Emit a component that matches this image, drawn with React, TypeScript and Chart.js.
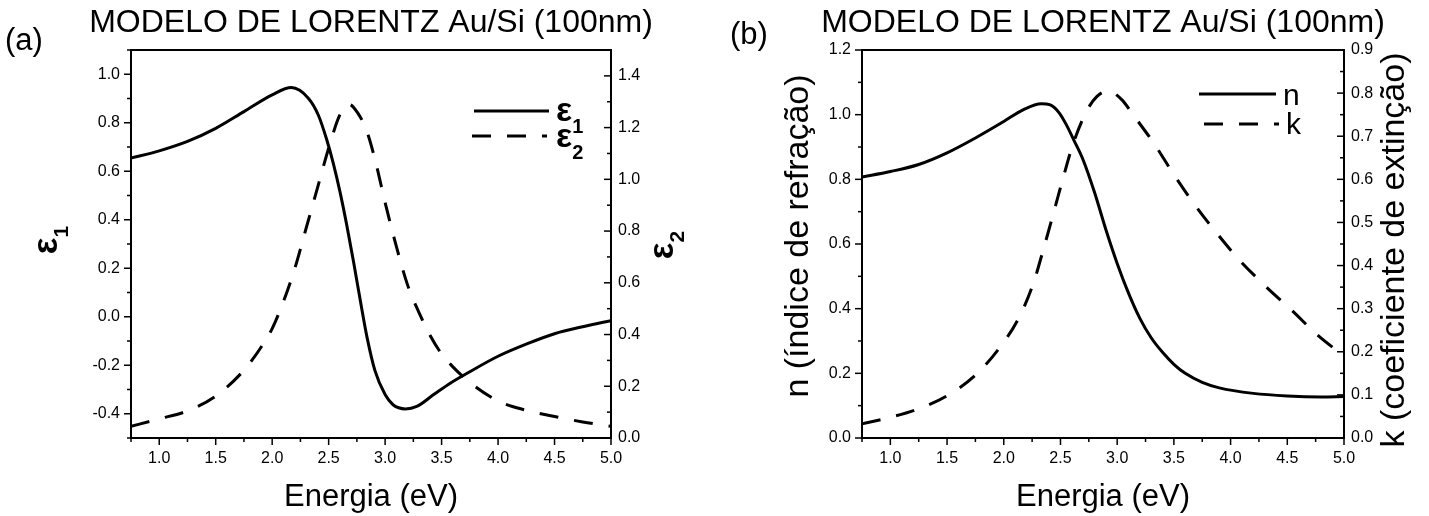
import React, { useEffect, useRef } from 'react';
import { Chart, registerables } from 'chart.js';

Chart.register(...registerables);

// ---------- Panel (a): Lorentz model, dielectric function ----------
const energyEps1 = [0.75, 1.0, 1.25, 1.5, 1.75, 2.0, 2.17, 2.32, 2.41, 2.48, 2.54, 2.6, 2.66, 2.72, 2.78, 2.84, 2.91, 3.0, 3.07, 3.18, 3.28, 3.43, 3.58, 3.73, 4.0, 4.26, 4.5, 4.76, 5.0];
const eps1 = [0.654, 0.684, 0.723, 0.777, 0.846, 0.915, 0.945, 0.901, 0.83, 0.735, 0.635, 0.516, 0.379, 0.228, 0.068, -0.085, -0.222, -0.321, -0.363, -0.38, -0.37, -0.321, -0.273, -0.232, -0.163, -0.111, -0.07, -0.04, -0.016];

const energyEps2 = [0.75, 1.0, 1.25, 1.5, 1.75, 1.9, 2.0, 2.1, 2.2, 2.3, 2.4, 2.5, 2.6, 2.68, 2.76, 2.84, 2.92, 3.0, 3.1, 3.2, 3.3, 3.4, 3.5, 3.6, 3.75, 4.0, 4.25, 4.5, 4.75, 5.0];
const eps2 = [0.045, 0.074, 0.105, 0.162, 0.262, 0.35, 0.423, 0.528, 0.655, 0.81, 0.965, 1.12, 1.25, 1.29, 1.255, 1.184, 1.06, 0.91, 0.74, 0.59, 0.485, 0.395, 0.325, 0.275, 0.215, 0.143, 0.107, 0.083, 0.062, 0.045];

// ---------- Panel (b): refractive index n and extinction coefficient k ----------
const energyN = [0.75, 1.0, 1.25, 1.5, 1.75, 2.0, 2.17, 2.33, 2.41, 2.49, 2.55, 2.62, 2.7, 2.8, 2.9, 3.0, 3.1, 3.2, 3.3, 3.4, 3.5, 3.6, 3.75, 3.9, 4.2, 4.5, 4.8, 5.0];
const nValues = [0.807, 0.824, 0.846, 0.882, 0.928, 0.979, 1.015, 1.034, 1.03, 1.005, 0.97, 0.92, 0.86, 0.76, 0.645, 0.54, 0.448, 0.37, 0.31, 0.265, 0.228, 0.2, 0.172, 0.155, 0.138, 0.13, 0.127, 0.128];

const energyK = [0.75, 1.0, 1.25, 1.5, 1.75, 1.95, 2.13, 2.26, 2.35, 2.44, 2.52, 2.61, 2.73, 2.82, 2.92, 3.04, 3.14, 3.33, 3.49, 3.67, 3.86, 4.07, 4.3, 4.54, 4.77, 5.0];
const kValues = [0.033, 0.048, 0.068, 0.098, 0.146, 0.205, 0.277, 0.358, 0.438, 0.523, 0.6, 0.681, 0.758, 0.792, 0.805, 0.785, 0.75, 0.681, 0.615, 0.546, 0.481, 0.415, 0.354, 0.296, 0.238, 0.19];

// ---------- Axis ticks ----------
const xMajor = [1.0, 1.5, 2.0, 2.5, 3.0, 3.5, 4.0, 4.5, 5.0];
const xMinor = [0.75, 1.25, 1.75, 2.25, 2.75, 3.25, 3.75, 4.25, 4.75];
const eps1Major = [-0.4, -0.2, 0.0, 0.2, 0.4, 0.6, 0.8, 1.0];
const eps1Minor = [-0.5, -0.3, -0.1, 0.1, 0.3, 0.5, 0.7, 0.9, 1.1];
const eps2Major = [0.0, 0.2, 0.4, 0.6, 0.8, 1.0, 1.2, 1.4];
const eps2Minor = [0.1, 0.3, 0.5, 0.7, 0.9, 1.1, 1.3, 1.5];
const nMajor = [0.0, 0.2, 0.4, 0.6, 0.8, 1.0, 1.2];
const nMinor = [0.1, 0.3, 0.5, 0.7, 0.9, 1.1];
const kMajor = [0.0, 0.1, 0.2, 0.3, 0.4, 0.5, 0.6, 0.7, 0.8, 0.9];
const kMinor = [0.05, 0.15, 0.25, 0.35, 0.45, 0.55, 0.65, 0.75, 0.85];

const TITLE = 'MODELO DE LORENTZ Au/Si (100nm)';
const XTITLE = 'Energia (eV)';
const DASH = [19, 16];

const FONT = "'Liberation Sans', Arial, Helvetica, sans-serif";

type Part = { t: string; size: number; bold?: boolean; dy?: number };
type TextItem = { parts: Part[]; x: number; y: number; rotate?: boolean; align?: 'left' | 'center' };
type LegendItem = { x1: number; x2: number; y: number; dash?: number[] };
type TickSpec = { id: string; side: 'bottom' | 'left' | 'right'; major: number[]; minor: number[] };

function drawRich(ctx: CanvasRenderingContext2D, item: TextItem, off: number) {
  ctx.save();
  ctx.translate(item.x - off, item.y);
  if (item.rotate) ctx.rotate(-Math.PI / 2);
  const fontOf = (p: Part) => `${p.bold ? 'bold ' : ''}${p.size}px ${FONT}`;
  let total = 0;
  const widths = item.parts.map((p) => {
    ctx.font = fontOf(p);
    const w = ctx.measureText(p.t).width;
    total += w;
    return w;
  });
  let cx = item.align === 'center' ? -total / 2 : 0;
  ctx.textAlign = 'left';
  ctx.textBaseline = 'alphabetic';
  ctx.fillStyle = '#000';
  item.parts.forEach((p, i) => {
    ctx.font = fontOf(p);
    ctx.fillText(p.t, cx, p.dy || 0);
    cx += widths[i];
  });
  ctx.restore();
}

function makeDecor(name: string, offset: number, ticks: TickSpec[], texts: TextItem[], legend: LegendItem[]) {
  return {
    id: 'decor' + name,
    afterDraw(chart: any) {
      const ctx: CanvasRenderingContext2D = chart.ctx;
      const a = chart.chartArea;
      ctx.save();
      ctx.strokeStyle = '#000';
      ctx.lineWidth = 2;
      ctx.setLineDash([]);
      ctx.strokeRect(a.left, a.top, a.right - a.left, a.bottom - a.top);
      ctx.lineWidth = 1.5;
      for (const spec of ticks) {
        const s = chart.scales[spec.id];
        const draw = (v: number, len: number) => {
          const p = s.getPixelForValue(v);
          ctx.beginPath();
          if (spec.side === 'bottom') {
            ctx.moveTo(p, a.bottom);
            ctx.lineTo(p, a.bottom + len);
          } else if (spec.side === 'left') {
            ctx.moveTo(a.left - len, p);
            ctx.lineTo(a.left, p);
          } else {
            ctx.moveTo(a.right - len, p);
            ctx.lineTo(a.right, p);
          }
          ctx.stroke();
        };
        spec.major.forEach((v) => draw(v, 7));
        spec.minor.forEach((v) => draw(v, 4));
      }
      for (const l of legend) {
        ctx.beginPath();
        ctx.lineWidth = 3;
        ctx.lineCap = 'butt';
        ctx.setLineDash(l.dash || []);
        ctx.moveTo(l.x1 - offset, l.y);
        ctx.lineTo(l.x2 - offset, l.y);
        ctx.stroke();
      }
      ctx.setLineDash([]);
      for (const t of texts) drawRich(ctx, t, offset);
      ctx.restore();
    },
  };
}

const pts = (xs: number[], ys: number[]) => xs.map((x, i) => ({ x, y: ys[i] }));

function lineDs(xs: number[], ys: number[], axis: string, dash?: number[]) {
  return {
    data: pts(xs, ys),
    yAxisID: axis,
    borderColor: '#000',
    borderWidth: 3,
    borderDash: dash || [],
    borderCapStyle: 'butt',
    pointRadius: 0,
    fill: false,
    cubicInterpolationMode: 'monotone',
  };
}

function scaleOpts(min: number, max: number, major: number[], position: string, size: number, padding: number, horizontal = false) {
  return {
    type: 'linear',
    position,
    min,
    max,
    afterBuildTicks: (s: any) => {
      s.ticks = major.map((v) => ({ value: v }));
    },
    afterFit: (s: any) => {
      if (horizontal) s.height = size;
      else s.width = size;
    },
    grid: { display: false, drawTicks: false },
    border: { display: false },
    ticks: {
      padding,
      color: '#000',
      autoSkip: false,
      maxRotation: 0,
      font: { family: FONT, size: 16 },
      callback: (v: number) => Number(v).toFixed(1),
    },
  };
}

function baseOptions(scales: any) {
  return {
    animation: false,
    responsive: false,
    maintainAspectRatio: false,
    layout: { padding: { top: 50, left: 0, right: 0, bottom: 0 } },
    plugins: { legend: { display: false }, tooltip: { enabled: false }, title: { display: false } },
    scales,
  };
}

export default function App() {
  const refA = useRef<HTMLCanvasElement>(null);
  const refB = useRef<HTMLCanvasElement>(null);

  useEffect(() => {
    document.body.style.margin = '0';
    const offB = 715;

    const textsA: TextItem[] = [
      { parts: [{ t: TITLE, size: 32 }], x: 371, y: 32, align: 'center' },
      { parts: [{ t: '(a)', size: 31 }], x: 5, y: 50 },
      { parts: [{ t: XTITLE, size: 31 }], x: 371, y: 506, align: 'center' },
      { parts: [{ t: 'ε', size: 35, bold: true }, { t: '1', size: 21, bold: true, dy: 11 }], x: 57, y: 240, rotate: true, align: 'center' },
      { parts: [{ t: 'ε', size: 35, bold: true }, { t: '2', size: 21, bold: true, dy: 11 }], x: 673, y: 245, rotate: true, align: 'center' },
      { parts: [{ t: 'ε', size: 34, bold: true }, { t: '1', size: 20, bold: true, dy: 12 }], x: 556, y: 121 },
      { parts: [{ t: 'ε', size: 34, bold: true }, { t: '2', size: 20, bold: true, dy: 12 }], x: 556, y: 147 },
    ];
    const legendA: LegendItem[] = [
      { x1: 474, x2: 549, y: 111 },
      { x1: 472, x2: 547, y: 136, dash: DASH },
    ];
    const ticksA: TickSpec[] = [
      { id: 'x', side: 'bottom', major: xMajor, minor: xMinor },
      { id: 'y', side: 'left', major: eps1Major, minor: eps1Minor },
      { id: 'y2', side: 'right', major: eps2Major, minor: eps2Minor },
    ];

    const textsB: TextItem[] = [
      { parts: [{ t: TITLE, size: 32 }], x: 1103, y: 32, align: 'center' },
      { parts: [{ t: '(b)', size: 31 }], x: 730, y: 44 },
      { parts: [{ t: XTITLE, size: 31 }], x: 1103, y: 506, align: 'center' },
      { parts: [{ t: 'n (índice de refração)', size: 34 }], x: 808, y: 236, rotate: true, align: 'center' },
      { parts: [{ t: 'k (coeficiente de extinção)', size: 34 }], x: 1404, y: 250, rotate: true, align: 'center' },
      { parts: [{ t: 'n', size: 30 }], x: 1283, y: 105 },
      { parts: [{ t: 'k', size: 30 }], x: 1286, y: 134 },
    ];
    const legendB: LegendItem[] = [
      { x1: 1199, x2: 1276, y: 94 },
      { x1: 1204, x2: 1279, y: 124, dash: DASH },
    ];
    const ticksB: TickSpec[] = [
      { id: 'x', side: 'bottom', major: xMajor, minor: xMinor },
      { id: 'y', side: 'left', major: nMajor, minor: nMinor },
      { id: 'y2', side: 'right', major: kMajor, minor: kMinor },
    ];

    const chartA = new Chart(refA.current as HTMLCanvasElement, {
      type: 'line',
      data: {
        datasets: [lineDs(energyEps1, eps1, 'y'), lineDs(energyEps2, eps2, 'y2', DASH)] as any,
      },
      options: baseOptions({
        x: scaleOpts(0.75, 5.0, xMajor, 'bottom', 78, 11, true),
        y: scaleOpts(-0.5, 1.1, eps1Major, 'left', 131, 11),
        y2: scaleOpts(0.0, 1.5, eps2Major, 'right', 104, 7),
      }) as any,
      plugins: [makeDecor('A', 0, ticksA, textsA, legendA)],
    });

    const chartB = new Chart(refB.current as HTMLCanvasElement, {
      type: 'line',
      data: {
        datasets: [lineDs(energyN, nValues, 'y'), lineDs(energyK, kValues, 'y2', DASH)] as any,
      },
      options: baseOptions({
        x: scaleOpts(0.75, 5.0, xMajor, 'bottom', 78, 11, true),
        y: scaleOpts(0.0, 1.2, nMajor, 'left', 862 - offB, 11),
        y2: scaleOpts(0.0, 0.9, kMajor, 'right', 714 - (1344 - offB), 7),
      }) as any,
      plugins: [makeDecor('B', offB, ticksB, textsB, legendB)],
    });

    return () => {
      chartA.destroy();
      chartB.destroy();
    };
  }, []);

  return (
    <div style={{ position: 'absolute', left: 0, top: 0, width: 1429, height: 516, background: '#fff', overflow: 'hidden' }}>
      <canvas ref={refA} width={715} height={516} style={{ position: 'absolute', left: 0, top: 0, width: 715, height: 516 }} />
      <canvas ref={refB} width={714} height={516} style={{ position: 'absolute', left: 715, top: 0, width: 714, height: 516 }} />
    </div>
  );
}
